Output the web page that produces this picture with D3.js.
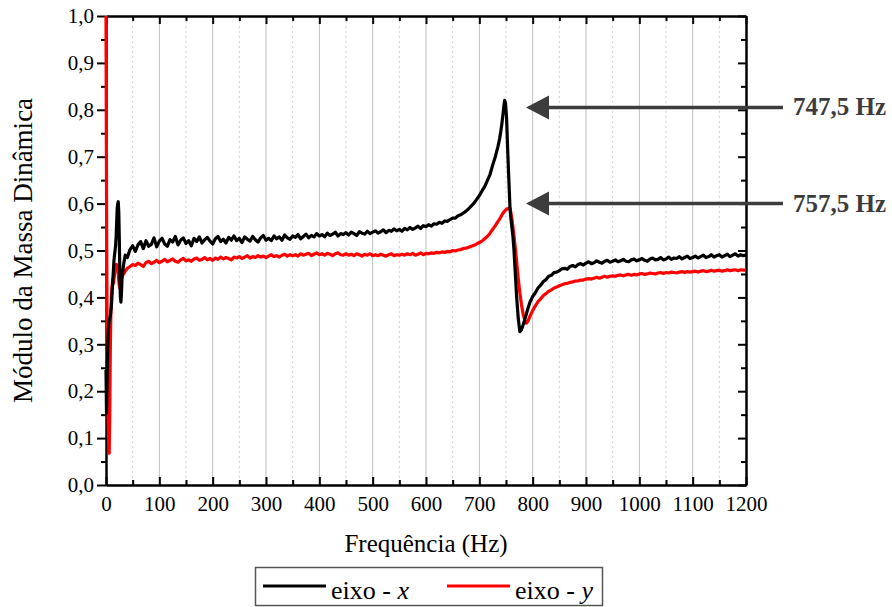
<!DOCTYPE html>
<html lang="pt">
<head>
<meta charset="UTF-8">
<title>Módulo da Massa Dinâmica</title>
<script src="https://cdnjs.cloudflare.com/ajax/libs/d3/7.8.5/d3.min.js"></script>
<style>
  body { margin: 0; background: #fff; }
  svg { display: block; font-family: "Liberation Serif", "Times New Roman", serif; }
</style>
</head>
<body>
<div id="chart"></div>
<script>
// frequency grid (Hz), shared by both curves
var freq = [
  0, 1, 2, 3, 4, 5, 6, 7, 8, 9, 10, 11, 12, 13, 14, 15, 16, 17, 18, 19, 20,
  21, 22, 23, 24, 25, 26, 27, 28, 29, 30, 33, 36, 40, 45, 50,
  55, 60, 65, 70, 75, 80, 85, 90, 95, 100,
  105, 110, 115, 120, 125, 130, 135, 140, 145, 150,
  155, 160, 165, 170, 175, 180, 185, 190, 195, 200,
  205, 210, 215, 220, 225, 230, 235, 240, 245, 250,
  255, 260, 265, 270, 275, 280, 285, 290, 295, 300,
  305, 310, 315, 320, 325, 330, 335, 340, 345, 350,
  355, 360, 365, 370, 375, 380, 385, 390, 395, 400,
  405, 410, 415, 420, 425, 430, 435, 440, 445, 450,
  455, 460, 465, 470, 475, 480, 485, 490, 495, 500,
  505, 510, 515, 520, 525, 530, 535, 540, 545, 550,
  555, 560, 565, 570, 575, 580, 585, 590, 595, 600,
  605, 610, 615, 620, 625, 630, 635, 640, 645, 650,
  655, 660, 665, 670, 675, 680, 685, 690, 695, 700,
  705, 710, 715, 720,
  725, 730, 735, 738, 740, 742, 744, 746, 747.5, 749, 751, 753, 755, 757.5,
  759, 761, 763, 765, 767, 770, 773, 776, 779, 782, 785, 788, 791, 795,
  800, 805, 810, 815, 820, 825, 830, 835, 840, 845,
  850, 855, 860, 865, 870, 875, 880, 885, 890, 895,
  900, 905, 910, 915, 920, 925, 930, 935, 940, 945,
  950, 955, 960, 965, 970, 975, 980, 985, 990, 995,
  1000, 1005, 1010, 1015, 1020, 1025, 1030, 1035, 1040, 1045,
  1050, 1055, 1060, 1065, 1070, 1075, 1080, 1085, 1090, 1095,
  1100, 1105, 1110, 1115, 1120, 1125, 1130, 1135, 1140, 1145,
  1150, 1155, 1160, 1165, 1170, 1175, 1180, 1185, 1190, 1195,
  1200
];

// eixo - x (black)
var eixoX = [
  0.245, 0.153, 0.22, 0.28, 0.32, 0.34, 0.35, 0.355, 0.36, 0.37, 0.38,
  0.40, 0.42, 0.44, 0.46, 0.48, 0.49, 0.50, 0.51, 0.53, 0.56,
  0.59, 0.60, 0.604, 0.58, 0.52, 0.45, 0.40, 0.39, 0.41, 0.44, 0.47, 0.49, 0.485, 0.502, 0.51,
  0.498, 0.512, 0.519, 0.504, 0.521, 0.509, 0.513, 0.527, 0.508, 0.52,
  0.526, 0.514, 0.509, 0.523, 0.518, 0.53, 0.512, 0.522, 0.527, 0.515,
  0.521, 0.51, 0.526, 0.519, 0.529, 0.516, 0.523, 0.528, 0.52, 0.514,
  0.525, 0.53, 0.519, 0.524, 0.516, 0.528, 0.522, 0.531, 0.521, 0.526,
  0.517, 0.529, 0.524, 0.52, 0.53, 0.523, 0.518, 0.527, 0.532, 0.522,
  0.526, 0.521, 0.531, 0.525, 0.529, 0.522, 0.533, 0.527, 0.524, 0.531,
  0.528, 0.534, 0.525, 0.53, 0.535, 0.527, 0.532, 0.529, 0.536, 0.531,
  0.534, 0.529, 0.537, 0.532, 0.535, 0.539, 0.531, 0.536, 0.534, 0.538,
  0.533, 0.539, 0.536, 0.532, 0.54, 0.537, 0.535, 0.541, 0.536, 0.539,
  0.542, 0.537, 0.54, 0.544, 0.538, 0.543, 0.541, 0.546, 0.542, 0.545,
  0.541, 0.547, 0.544, 0.549, 0.545, 0.548, 0.552, 0.547, 0.553, 0.551,
  0.555, 0.552, 0.557, 0.556, 0.56, 0.558, 0.563, 0.562, 0.566, 0.569,
  0.569, 0.574, 0.576, 0.58, 0.584, 0.589, 0.595, 0.601, 0.609, 0.617,
  0.627, 0.636, 0.649, 0.662,
  0.682, 0.70, 0.722, 0.738, 0.752, 0.768, 0.787, 0.808, 0.82, 0.814, 0.785, 0.72, 0.66, 0.59,
  0.57, 0.55, 0.53, 0.50, 0.46, 0.40, 0.355, 0.327, 0.331, 0.341, 0.352, 0.364, 0.376, 0.39,
  0.402, 0.41, 0.42, 0.426, 0.434, 0.438, 0.445, 0.447, 0.453, 0.454,
  0.457, 0.461, 0.462, 0.46, 0.466, 0.468, 0.465, 0.47, 0.472, 0.469,
  0.473, 0.476, 0.472, 0.474, 0.478, 0.475, 0.473, 0.477, 0.479, 0.475,
  0.477, 0.48, 0.476, 0.478, 0.481, 0.477, 0.476, 0.48, 0.482, 0.478,
  0.48, 0.483, 0.479, 0.477, 0.482, 0.484, 0.48, 0.481, 0.485, 0.48,
  0.482, 0.486, 0.481, 0.484, 0.483, 0.487, 0.482, 0.485, 0.488, 0.483,
  0.485, 0.488, 0.484, 0.487, 0.49, 0.485, 0.487, 0.491, 0.486, 0.489,
  0.491, 0.486, 0.489, 0.492, 0.487, 0.49, 0.493, 0.488, 0.491, 0.489,
  0.49
];

// eixo - y (red)
var eixoY = [
  1.0, 0.62, 0.33, 0.24, 0.15, 0.09, 0.068, 0.15, 0.28, 0.36, 0.40,
  0.42, 0.43, 0.44, 0.43, 0.44, 0.45, 0.46, 0.465, 0.47, 0.47,
  0.468, 0.46, 0.45, 0.435, 0.425, 0.42, 0.425, 0.435, 0.44, 0.445, 0.45, 0.456, 0.462, 0.466, 0.47,
  0.468, 0.473, 0.47, 0.466, 0.474, 0.477, 0.472, 0.475, 0.479, 0.474,
  0.477, 0.481, 0.476, 0.479, 0.482, 0.477, 0.475, 0.48, 0.483, 0.478,
  0.48, 0.477, 0.482, 0.484, 0.479, 0.481, 0.485, 0.48, 0.483, 0.479,
  0.484, 0.481, 0.486, 0.482, 0.485, 0.483, 0.48, 0.486, 0.484, 0.487,
  0.483, 0.486, 0.489, 0.484, 0.487, 0.485, 0.489, 0.486, 0.488, 0.485,
  0.488, 0.491, 0.487, 0.489, 0.486, 0.49, 0.492, 0.488, 0.491, 0.489,
  0.491, 0.488, 0.493, 0.49, 0.492, 0.494, 0.489, 0.492, 0.495, 0.491,
  0.493, 0.49, 0.494, 0.492, 0.489, 0.493, 0.495, 0.491, 0.49, 0.493,
  0.49, 0.492, 0.489, 0.493, 0.491, 0.488, 0.492, 0.49, 0.493, 0.489,
  0.491, 0.489, 0.492, 0.49, 0.488, 0.491, 0.493, 0.489, 0.491, 0.49,
  0.492, 0.49, 0.493, 0.491, 0.494, 0.49, 0.492, 0.495, 0.491, 0.494,
  0.493, 0.495, 0.494, 0.496, 0.495, 0.497, 0.496, 0.498, 0.497, 0.5,
  0.499, 0.501, 0.502, 0.504, 0.505, 0.507, 0.509, 0.511, 0.514, 0.517,
  0.52, 0.525, 0.53, 0.537,
  0.545, 0.553, 0.562, 0.567, 0.571, 0.575, 0.579, 0.582, 0.584, 0.586, 0.588, 0.589, 0.59, 0.59,
  0.582, 0.568, 0.55, 0.53, 0.51, 0.475, 0.44, 0.41, 0.385, 0.365, 0.352, 0.345, 0.349, 0.36,
  0.372, 0.382, 0.391, 0.397, 0.404, 0.408, 0.413, 0.416, 0.42, 0.422,
  0.425, 0.427, 0.429, 0.43, 0.432, 0.433, 0.435, 0.435, 0.437, 0.437,
  0.439, 0.44, 0.439, 0.441, 0.443, 0.441, 0.443, 0.445, 0.443, 0.445,
  0.446, 0.445, 0.447, 0.448, 0.446, 0.448, 0.449, 0.447, 0.449, 0.448,
  0.45, 0.451, 0.449, 0.45, 0.452, 0.451, 0.45, 0.452, 0.453, 0.451,
  0.453, 0.452, 0.454, 0.453, 0.452, 0.454, 0.455, 0.453, 0.455, 0.454,
  0.455, 0.456, 0.454, 0.456, 0.457, 0.455, 0.456, 0.458, 0.456, 0.457,
  0.458, 0.456, 0.457, 0.459, 0.457, 0.458, 0.459, 0.457, 0.459, 0.458,
  0.458
];

var xTicks = [0, 100, 200, 300, 400, 500, 600, 700, 800, 900, 1000, 1100, 1200];
var yTicks = [0, 0.1, 0.2, 0.3, 0.4, 0.5, 0.6, 0.7, 0.8, 0.9, 1.0];
var peaks = [
  { label: "747,5 Hz", value: 0.805 },
  { label: "757,5 Hz", value: 0.6 }
];

var W = 892, H = 607;
var plotL = 106, plotR = 746, plotT = 16, plotB = 485;

var svg = d3.select("#chart").append("svg")
  .attr("width", W)
  .attr("height", H);

var x = d3.scaleLinear().domain([0, 1200]).range([plotL, plotR]);
var y = d3.scaleLinear().domain([0, 1]).range([plotB, plotT]);

var minorX = d3.range(50, 1200, 100);
var minorY = d3.range(0.05, 1, 0.1);

// vertical grid
svg.append("g").selectAll("line")
  .data(xTicks.slice(1, -1))
  .enter().append("line")
  .attr("x1", function (d) { return x(d); })
  .attr("x2", function (d) { return x(d); })
  .attr("y1", plotT).attr("y2", plotB)
  .attr("stroke", "#bdbdbd").attr("stroke-width", 1);

svg.append("g").selectAll("line")
  .data(minorX)
  .enter().append("line")
  .attr("x1", function (d) { return x(d); })
  .attr("x2", function (d) { return x(d); })
  .attr("y1", plotT).attr("y2", plotB)
  .attr("stroke", "#cfcfcf").attr("stroke-width", 1)
  .attr("stroke-dasharray", "2,3");

// axes
var fmtY = function (d) { return d3.format(".1f")(d).replace(".", ","); };
var fmtX = d3.format("d");

function styleAxis(g) {
  g.select(".domain").attr("stroke", "#000").attr("stroke-width", 2);
  g.selectAll(".tick line").attr("stroke", "#000").attr("stroke-width", 2);
  g.selectAll("text").attr("fill", "#000").attr("font-size", 21)
    .attr("font-family", "Liberation Serif, Times New Roman, serif");
}

svg.append("g").attr("transform", "translate(0," + plotB + ")")
  .call(d3.axisBottom(x).tickValues(xTicks).tickSize(-8).tickSizeOuter(0).tickPadding(11).tickFormat(fmtX))
  .call(styleAxis);
svg.append("g").attr("transform", "translate(0," + plotB + ")")
  .call(d3.axisBottom(x).tickValues(minorX).tickSize(-5).tickSizeOuter(0).tickFormat(""))
  .call(styleAxis);

svg.append("g").attr("transform", "translate(0," + plotT + ")")
  .call(d3.axisTop(x).tickValues(xTicks).tickSize(-8).tickSizeOuter(0).tickFormat(""))
  .call(styleAxis);
svg.append("g").attr("transform", "translate(0," + plotT + ")")
  .call(d3.axisTop(x).tickValues(minorX).tickSize(-5).tickSizeOuter(0).tickFormat(""))
  .call(styleAxis);

svg.append("g").attr("transform", "translate(" + plotL + ",0)")
  .call(d3.axisLeft(y).tickValues(yTicks).tickSize(9).tickSizeOuter(0).tickPadding(3).tickFormat(fmtY))
  .call(styleAxis);
svg.append("g").attr("transform", "translate(" + plotL + ",0)")
  .call(d3.axisLeft(y).tickValues(minorY).tickSize(5).tickSizeOuter(0).tickFormat(""))
  .call(styleAxis);

svg.append("g").attr("transform", "translate(" + plotR + ",0)")
  .call(d3.axisRight(y).tickValues(yTicks).tickSize(-8).tickSizeOuter(0).tickFormat(""))
  .call(styleAxis);
svg.append("g").attr("transform", "translate(" + plotR + ",0)")
  .call(d3.axisRight(y).tickValues(minorY).tickSize(-5).tickSizeOuter(0).tickFormat(""))
  .call(styleAxis);

// curves, drawn over the axes as in the original
var pts = freq.map(function (f, i) { return { f: f, a: eixoX[i], b: eixoY[i] }; });

var lineY = d3.line().x(function (d) { return x(d.f); }).y(function (d) { return y(d.b); });
var lineX = d3.line().x(function (d) { return x(d.f); }).y(function (d) { return y(d.a); });

svg.append("path").datum(pts)
  .attr("d", lineY)
  .attr("fill", "none").attr("stroke", "#ff0000")
  .attr("stroke-width", 3.2).attr("stroke-linejoin", "round");

svg.append("path").datum(pts)
  .attr("d", lineX)
  .attr("fill", "none").attr("stroke", "#000")
  .attr("stroke-width", 3.2).attr("stroke-linejoin", "round");

// axis titles
svg.append("text")
  .attr("x", (plotL + plotR) / 2).attr("y", 552)
  .attr("text-anchor", "middle").attr("font-size", 25)
  .text("Frequência (Hz)");

svg.append("text")
  .attr("transform", "translate(32," + (plotT + plotB) / 2 + ") rotate(-90)")
  .attr("text-anchor", "middle").attr("font-size", 27)
  .text("Módulo da Massa Dinâmica");

// peak arrows
var ann = svg.append("g").selectAll("g").data(peaks).enter().append("g");
ann.append("line")
  .attr("x1", 545).attr("x2", 783)
  .attr("y1", function (d) { return y(d.value); })
  .attr("y2", function (d) { return y(d.value); })
  .attr("stroke", "#3c3c3c").attr("stroke-width", 3.5);
ann.append("path")
  .attr("d", function (d) {
    var yy = y(d.value);
    return "M526," + yy + "L549," + (yy - 12) + "L549," + (yy + 12) + "Z";
  })
  .attr("fill", "#3c3c3c");
ann.append("text")
  .attr("x", 793)
  .attr("y", function (d) { return y(d.value) + 8; })
  .attr("font-size", 25).attr("font-weight", "bold").attr("fill", "#3c3c3c")
  .text(function (d) { return d.label; });

// legend
var leg = svg.append("g");
leg.append("rect")
  .attr("x", 255.5).attr("y", 567.5).attr("width", 347).attr("height", 38)
  .attr("fill", "#fff").attr("stroke", "#555").attr("stroke-width", 1.5);
var items = [
  { name: "eixo - ", sym: "x", color: "#000", x0: 263 },
  { name: "eixo - ", sym: "y", color: "#ff0000", x0: 447 }
];
items.forEach(function (it) {
  leg.append("line")
    .attr("x1", it.x0).attr("x2", it.x0 + 63)
    .attr("y1", 586).attr("y2", 586)
    .attr("stroke", it.color).attr("stroke-width", 3);
  var t = leg.append("text").attr("x", it.x0 + 68).attr("y", 599).attr("font-size", 26);
  t.append("tspan").text(it.name);
  t.append("tspan").attr("font-style", "italic").text(it.sym);
});
</script>
</body>
</html>
